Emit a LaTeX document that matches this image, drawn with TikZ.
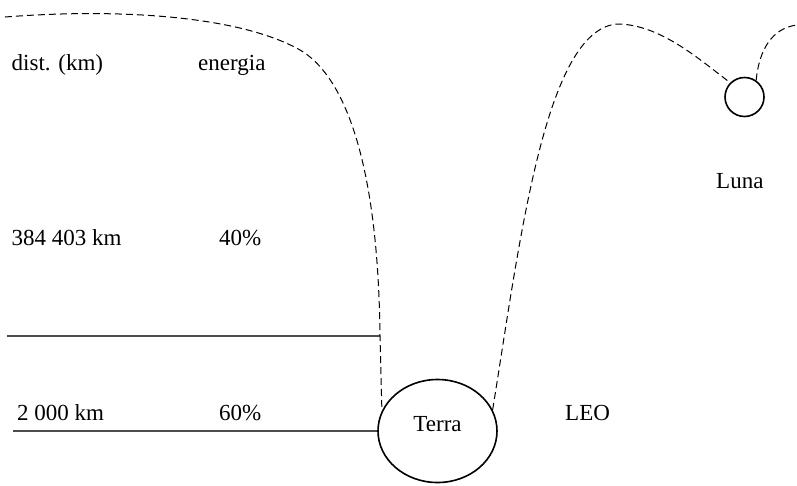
\documentclass[tikz,border=0pt]{standalone}
\usepackage{fontspec}
\setmainfont{Liberation Serif}
\usetikzlibrary{shapes.geometric,positioning}
\tikzset{
  lbl/.style    ={inner sep=0pt, anchor=base west, font=\fontsize{23}{27}\selectfont},
  planet/.style ={draw, ellipse, line width=1.6pt, inner sep=0pt},
  moon/.style   ={draw, circle, line width=1.6pt, inner sep=0pt, minimum size=39pt},
  orbit/.style  ={draw, line width=1pt, dash pattern=on 7pt off 4pt},
  lvl/.style    ={draw, line width=1.1pt, black!70},
}

\begin{document}
\begin{tikzpicture}[x=1pt, y=-1pt]
  \useasboundingbox (0,0) rectangle (797,485);

  % bodies
  \node[planet, minimum width=119pt, minimum height=103pt] (terra) at (437.5,431) {};
  \node[moon] (luna) at (744.5,97) {};
  \node[lbl, anchor=base] at (terra.center) {Terra};

  % table of levels
  \node[lbl] (hdist) at (11.5,70.5) {dist. (km)};
  \node[lbl] (hen)   at (198,70.5)  {energia};
  \node[lbl] (d1)    at (11.5,245.5) {384 403 km};
  \node[lbl] (e1)    at (219,245.5)  {40\%};
  \node[lbl] (d2)    at (17,420.5)   {2 000 km};
  \node[lbl] (e2)    at (219,420.5)  {60\%};
  \node[lbl] (leo)   at (565,420.5)  {LEO};
  \node[lbl] (lname) at (716,188)    {Luna};

  \coordinate (ltop) at (5,17);
  \coordinate (lmeet) at (380,336);
  \coordinate (lv1) at (7,336);
  \coordinate (lv2) at (13,431);
  \coordinate (rtop) at (797,25);

  \draw[lvl] (lv1) -- (lmeet);
  \draw[lvl] (lv2) -- (terra.west);

  % transfer paths
  \draw[orbit] (ltop) .. controls (120,8) and (240,16) .. (300,50)
               .. controls (340,73) and (378,150) .. (lmeet) -- (terra.160);
  \draw[orbit] (terra.21) .. controls (520,240) and (545,30) .. (617,24)
               .. controls (660,24) and (700,60) .. (luna.135);
  \draw[orbit] (luna.55) .. controls (759,50) and (772,28) .. (rtop);
\end{tikzpicture}
\end{document}
